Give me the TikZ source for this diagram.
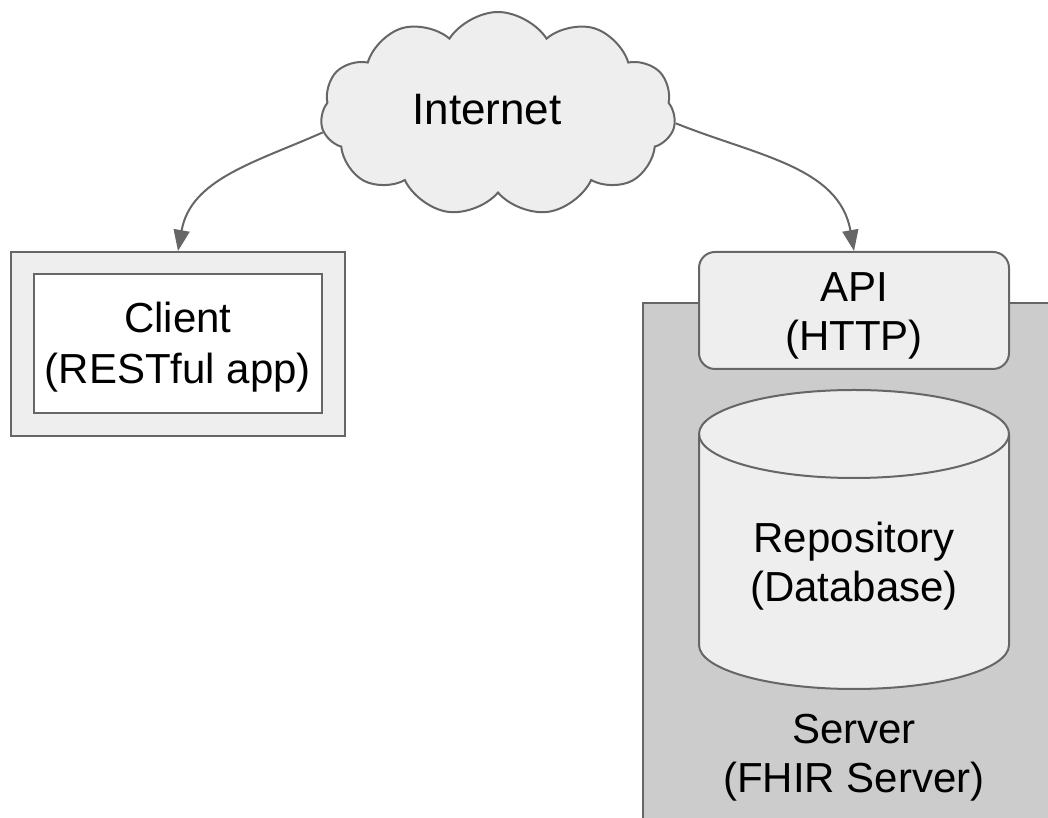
\documentclass[tikz,border=0pt]{standalone}
\usepackage{fontspec}
\setmainfont{Liberation Sans}
\usetikzlibrary{shapes.symbols,arrows.meta}

\definecolor{edgegray}{HTML}{666666}
\definecolor{lightfill}{HTML}{EEEEEE}
\definecolor{serverfill}{HTML}{CCCCCC}

\tikzset{
  label text/.style={align=center,font=\fontsize{42pt}{49pt}\selectfont,inner sep=0pt},
  outline/.style={draw=edgegray,line width=2pt},
  netcloud/.style={outline,fill=lightfill,cloud,cloud puffs=11,cloud puff arc=115,
    minimum width=355pt,minimum height=204pt},
  clientframe/.style={outline,fill=lightfill,minimum width=334pt,minimum height=184pt},
  clientbox/.style={outline,fill=white,minimum width=288pt,minimum height=139pt},
  apibox/.style={outline,fill=lightfill,rounded corners=16pt,minimum width=310pt,minimum height=117pt},
  serverbox/.style={outline,fill=serverfill},
  dbshape/.style={outline,fill=lightfill},
  link/.style={draw=edgegray,line width=2pt,-{Triangle[length=21pt,width=16pt]}}
}

\begin{document}
\begin{tikzpicture}[x=1pt,y=1pt]
\useasboundingbox (0,0) rectangle (1048,818);
\clip (0,0) rectangle (1048,818);

\draw[serverbox] (643,-20) rectangle (1070,515);

\node[netcloud] (internet) at (498,704) {};
\node[label text,font=\fontsize{44pt}{50pt}\selectfont] (netlabel) at (487,708) {Internet};

\node[clientframe] (client) at (178,474) {};
\node[clientbox] (app) at (178,474.5) {};
\node[label text,font=\fontsize{42pt}{51pt}\selectfont] (applabel) at (178,471) {Client\\(RESTful app)};

\node[apibox] (api) at (854,507.5) {};
\node[label text] (apilabel) at (854,502) {API\\(HTTP)};

\path[dbshape] (699,384) -- (699,173) arc[start angle=180,end angle=360,x radius=155,y radius=44]
  -- (1009,384) arc[start angle=0,end angle=180,x radius=155,y radius=44] -- cycle;
\draw[outline] (699,384) arc[start angle=180,end angle=360,x radius=155,y radius=44];
\node[label text] (repo) at (854,252) {Repository\\(Database)};

\node[label text] (server) at (854,60) {Server\\(FHIR Server)};

\draw[link] (internet.186) to[out=204,in=80] (client.north);
\draw[link] (internet.-3) to[out=-22,in=100] (api.north);
\end{tikzpicture}
\end{document}
